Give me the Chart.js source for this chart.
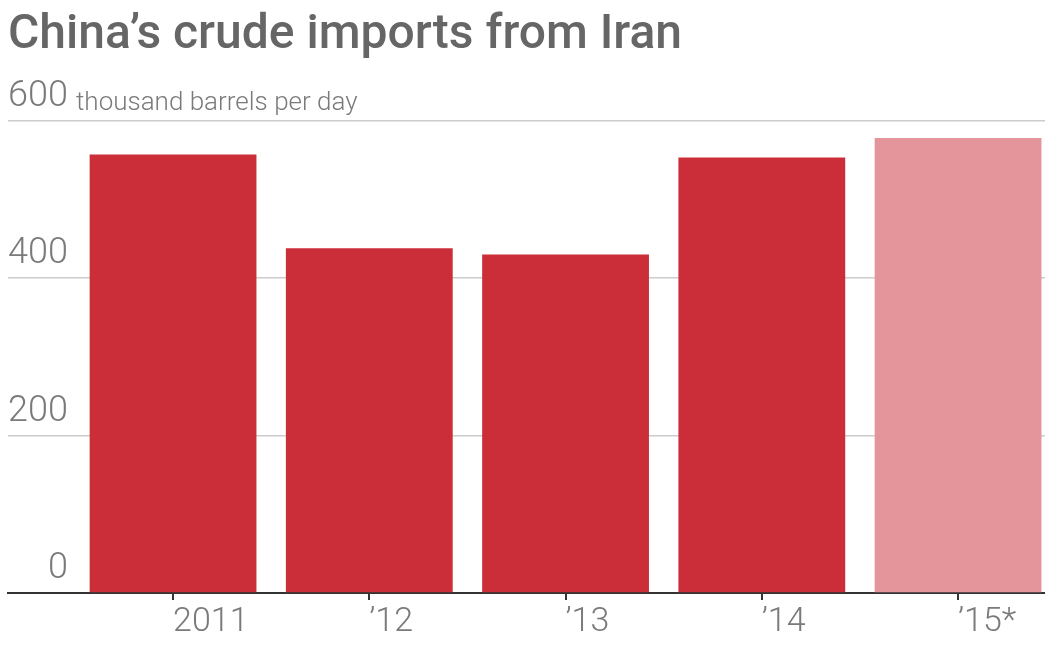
<!DOCTYPE html>
<html>
<head>
<meta charset="utf-8">
<script src="https://cdn.jsdelivr.net/npm/chart.js@4"></script>
<style>
  html, body { margin: 0; padding: 0; background: #ffffff; }
  #wrap { width: 1045px; height: 648px; position: relative; }
</style>
</head>
<body>
<div id="wrap"><canvas id="chart"></canvas></div>
<script>
// ---- data ----
const titleText = "China’s crude imports from Iran";
const unitLabel = "thousand barrels per day";
const categories = ["2011", "’12", "’13", "’14", "’15*"];
const importValues = [557, 438, 430, 553, 578];
const yTickValues = [0, 200, 400, 600];
const barColors = ["#cc2e39", "#cc2e39", "#cc2e39", "#cc2e39", "#e4959b"];

const points = categories.map((c, i) => ({ x: i, y: importValues[i] }));

const unitPlugin = {
  id: 'unitLabel',
  afterDraw(chart) {
    const y = chart.scales.y;
    const ctx = chart.ctx;
    const top = yTickValues[yTickValues.length - 1];
    ctx.save();
    ctx.font = '300 26px Roboto';
    ctx.fillStyle = '#7a7a7a';
    ctx.textAlign = 'left';
    ctx.textBaseline = 'alphabetic';
    ctx.fillText(unitLabel, 76, y.getPixelForValue(top) - 11);
    ctx.restore();
  }
};

new Chart(document.getElementById('chart'), {
  type: 'bar',
  data: {
    datasets: [{
      data: points,
      backgroundColor: barColors,
      borderWidth: 0,
      categoryPercentage: 1,
      barPercentage: 0.85
    }]
  },
  options: {
    responsive: true,
    maintainAspectRatio: false,
    animation: false,
    devicePixelRatio: 1,
    layout: { padding: { left: 8, right: 0, top: 0, bottom: 4 } },
    plugins: {
      legend: { display: false },
      tooltip: { enabled: false },
      title: {
        display: true,
        text: titleText,
        align: 'start',
        color: '#666666',
        font: { family: 'Roboto', size: 48, weight: '500' },
        padding: { top: 7, bottom: 56 }
      }
    },
    scales: {
      x: {
        type: 'linear',
        offset: false,
        min: -0.841,
        max: 4.443,
        afterBuildTicks: s => { s.ticks = categories.map((c, i) => ({ value: i })); },
        ticks: {
          autoSkip: false,
          maxRotation: 0,
          align: 'start',
          padding: 5,
          color: '#7a7a7a',
          font: { family: 'Roboto', size: 34, weight: '300', lineHeight: 1 },
          callback: v => categories[v]
        },
        grid: {
          display: true,
          offset: false,
          drawOnChartArea: false,
          drawTicks: true,
          tickLength: 7,
          color: '#333333',
          lineWidth: 2
        },
        border: { display: true, color: '#333333', width: 2 }
      },
      y: {
        min: 0,
        max: 600,
        afterBuildTicks: s => { s.ticks = yTickValues.map(v => ({ value: v })); },
        ticks: {
          mirror: true,
          crossAlign: 'far',
          padding: 0,
          labelOffset: -24,
          color: '#7a7a7a',
          font: { family: 'Roboto', size: 36, weight: '300' }
        },
        grid: {
          drawTicks: false,
          color: '#cccccc',
          lineWidth: 1.5
        },
        border: { display: false }
      }
    }
  },
  plugins: [unitPlugin]
});
</script>
</body>
</html>
